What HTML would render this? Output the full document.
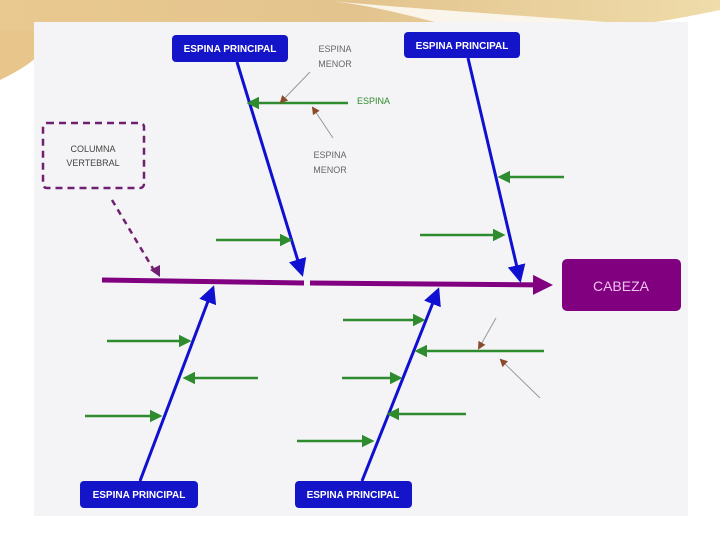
<!DOCTYPE html>
<html><head><meta charset="utf-8"><style>
html,body{margin:0;padding:0;background:#fff;}
svg{display:block;font-family:"Liberation Sans",sans-serif;}
</style></head><body>
<svg width="720" height="540" viewBox="0 0 720 540" xmlns="http://www.w3.org/2000/svg">
<defs>
<linearGradient id="tan" x1="0" y1="0" x2="1" y2="0">
<stop offset="0" stop-color="#e9c98f"/><stop offset="0.5" stop-color="#e3c48e"/><stop offset="1" stop-color="#efdcaa"/></linearGradient>
<marker id="ab" markerWidth="6" markerHeight="6" refX="5" refY="3" orient="auto" markerUnits="strokeWidth"><path d="M0,0 L6,3 L0,6 z" fill="#1010d0"/></marker>
<marker id="ag" markerWidth="5" markerHeight="5" refX="4" refY="2.5" orient="auto" markerUnits="strokeWidth"><path d="M0,0 L5,2.5 L0,5 z" fill="#2e8b2e"/></marker>
<marker id="ar" markerWidth="8" markerHeight="8" refX="6" refY="4" orient="auto" markerUnits="strokeWidth"><path d="M0,0 L8,4 L0,8 z" fill="#8b4a2a"/></marker>
<marker id="ap" markerWidth="4" markerHeight="4" refX="3" refY="2" orient="auto" markerUnits="strokeWidth"><path d="M0,0 L4,2 L0,4 z" fill="#800080"/></marker>
</defs>
<path d="M0,0 L720,0 L720,10 C650,25 600,30 560,30 L0,30 Z" fill="url(#tan)"/>
<path d="M0,30 L0,80 C20,70 40,60 60,30 Z" fill="#e8c58a"/>
<path d="M320,0 C380,5 420,20 470,30 L700,30 C600,20 420,10 320,0Z" fill="#ffffff" opacity="0.8"/>
<rect x="34" y="22" width="654" height="494" fill="#f4f4f6"/>
<!-- spine -->
<line x1="102" y1="280" x2="304" y2="283" stroke="#800080" stroke-width="5"/>
<line x1="310" y1="283" x2="548" y2="285" stroke="#800080" stroke-width="5" marker-end="url(#ap)"/>
<!-- bones -->
<line x1="237" y1="62" x2="302" y2="274" stroke="#1010d0" stroke-width="3" marker-end="url(#ab)"/>
<line x1="468" y1="58" x2="520" y2="280" stroke="#1010d0" stroke-width="3" marker-end="url(#ab)"/>
<line x1="140" y1="481" x2="213" y2="288" stroke="#1010d0" stroke-width="3" marker-end="url(#ab)"/>
<line x1="362" y1="481" x2="438" y2="290" stroke="#1010d0" stroke-width="3" marker-end="url(#ab)"/>
<!-- green -->
<g stroke="#2e8b2e" stroke-width="2.5" marker-end="url(#ag)">
<line x1="348" y1="103" x2="249" y2="103"/>
<line x1="216" y1="240" x2="290" y2="240"/>
<line x1="564" y1="177" x2="500" y2="177"/>
<line x1="420" y1="235" x2="503" y2="235"/>
<line x1="107" y1="341" x2="189" y2="341"/>
<line x1="258" y1="378" x2="185" y2="378"/>
<line x1="85" y1="416" x2="160" y2="416"/>
<line x1="343" y1="320" x2="423" y2="320"/>
<line x1="544" y1="351" x2="417" y2="351"/>
<line x1="342" y1="378" x2="400" y2="378"/>
<line x1="466" y1="414" x2="389" y2="414"/>
<line x1="297" y1="441" x2="372" y2="441"/>
</g>
<g stroke="#999" stroke-width="1" marker-end="url(#ar)">
<line x1="310" y1="72" x2="281" y2="102"/>
<line x1="333" y1="138" x2="313" y2="108"/>
<line x1="496" y1="318" x2="479" y2="348"/>
<line x1="540" y1="398" x2="501" y2="360"/>
</g>
<!-- dashed -->
<rect x="43" y="123" width="101" height="65" rx="4" fill="none" stroke="#702070" stroke-width="2.5" stroke-dasharray="7,5"/>
<line x1="112" y1="200" x2="155" y2="272" stroke="#702070" stroke-width="2.5" stroke-dasharray="6,5"/>
<path d="M150,270 L160,277 L160,265 Z" fill="#702070"/>
<text x="93" y="152" font-size="9" fill="#444" text-anchor="middle">COLUMNA</text>
<text x="93" y="166" font-size="9" fill="#444" text-anchor="middle">VERTEBRAL</text>
<!-- boxes -->
<g font-size="10" font-weight="bold" fill="#fff" text-anchor="middle">
<rect x="172" y="35" width="116" height="27" rx="4" fill="#1414c8"/>
<text x="230" y="52">ESPINA PRINCIPAL</text>
<rect x="404" y="32" width="116" height="26" rx="4" fill="#1414c8"/>
<text x="462" y="49">ESPINA PRINCIPAL</text>
<rect x="80" y="481" width="118" height="27" rx="4" fill="#1414c8"/>
<text x="139" y="498">ESPINA PRINCIPAL</text>
<rect x="295" y="481" width="117" height="27" rx="4" fill="#1414c8"/>
<text x="353" y="498">ESPINA PRINCIPAL</text>
</g>
<rect x="562" y="259" width="119" height="52" rx="5" fill="#800080"/>
<text x="621" y="291" font-size="14" fill="#f0c0f0" text-anchor="middle">CABEZA</text>
<g font-size="9" fill="#666" text-anchor="middle">
<text x="335" y="52">ESPINA</text><text x="335" y="67">MENOR</text>
<text x="330" y="158">ESPINA</text><text x="330" y="173">MENOR</text>
</g>
<text x="357" y="104" font-size="9" fill="#2e8b2e">ESPINA</text>
</svg>
</body></html>
